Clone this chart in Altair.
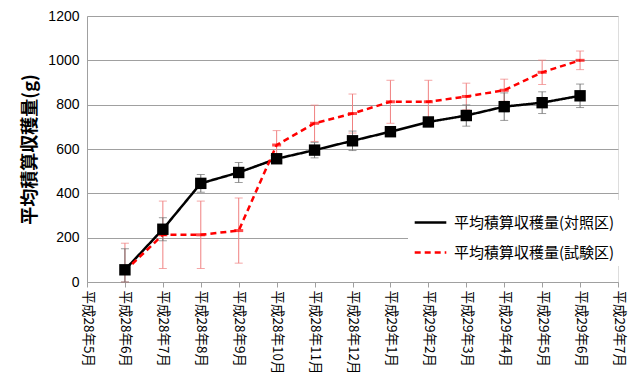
import altair as alt
import pandas as pd

months = ["平成28年5月", "平成28年6月", "平成28年7月", "平成28年8月", "平成28年9月",
          "平成28年10月", "平成28年11月", "平成28年12月", "平成29年1月", "平成29年2月",
          "平成29年3月", "平成29年4月", "平成29年5月", "平成29年6月", "平成29年7月"]
data_months = months[1:14]

s_ctrl = "平均積算収穫量(対照区)"
s_test = "平均積算収穫量(試験区)"

ctrl_vals = [55, 238, 445, 494, 556, 595, 637, 678, 722, 751, 791, 809, 840]
ctrl_err = [95, 52, 40, 45, 20, 35, 44, 15, 18, 48, 62, 49, 53]
test_vals = [50, 213, 213, 232, 618, 716, 760, 813, 813, 837, 865, 946, 1000]
test_err = [125, 152, 152, 147, 65, 82, 88, 97, 97, 60, 50, 55, 42]

rows = []
for m, v, e in zip(data_months, ctrl_vals, ctrl_err):
    rows.append({"month": m, "series": s_ctrl, "value": v, "lo": max(v - e, 0), "hi": v + e})
for m, v, e in zip(data_months, test_vals, test_err):
    rows.append({"month": m, "series": s_test, "value": v, "lo": max(v - e, 0), "hi": v + e})
df = pd.DataFrame(rows)
ctrl = df[df.series == s_ctrl]
test = df[df.series == s_test]

FONT = "Noto Sans CJK JP"

x = alt.X("month:N", sort=months, scale=alt.Scale(domain=months, type="point", padding=0),
          axis=alt.Axis(title=None, labelAngle=90, labelAlign="left", labelBaseline="middle",
                        labelFontSize=13.5, labelColor="#000",
                        labelFont=FONT, domainColor="#a0a0a0", tickColor="#a0a0a0",
                        tickSize=5, labelPadding=3, grid=False, labelOverlap=False))
y = alt.Y("value:Q", scale=alt.Scale(domain=[0, 1200], nice=False),
          axis=alt.Axis(title="平均積算収穫量(g)", values=[0, 200, 400, 600, 800, 1000, 1200],
                        format="d",
                        titleFontSize=18, titleFont=FONT, titleFontWeight="bold",
                        titleColor="#000", titlePadding=8, labelFontSize=14,
                        labelColor="#000", labelFont="Arial", ticks=False, labelPadding=8,
                        domainColor="#a0a0a0", gridColor="#a0a0a0", gridWidth=1))

color = alt.Color("series:N", scale=alt.Scale(domain=[s_ctrl, s_test], range=["#000000", "#ff0000"]),
                  legend=alt.Legend(title=None, orient="none", legendX=321, legendY=184,
                                    fillColor="#ffffff", padding=5, labelFontSize=15,
                                    labelFont=FONT, labelColor="#000", symbolType="stroke",
                                    symbolStrokeWidth=2.5, symbolSize=1000, rowPadding=4,
                                    labelOffset=6, labelLimit=300))
dash = alt.StrokeDash("series:N", scale=alt.Scale(domain=[s_ctrl, s_test], range=[[1, 0], [6, 4]]),
                      legend=None)

base = alt.Chart(df).encode(x=x)

err_test = alt.Chart(test).mark_rule(color="#f08080", strokeWidth=1).encode(
    x=alt.X("month:N", sort=months), y="lo:Q", y2="hi:Q")
cap_test_hi = alt.Chart(test).mark_tick(color="#f08080", size=8, thickness=1).encode(
    x=alt.X("month:N", sort=months), y="hi:Q")
cap_test_lo = alt.Chart(test).mark_tick(color="#f08080", size=8, thickness=1).encode(
    x=alt.X("month:N", sort=months), y="lo:Q")
err_ctrl = alt.Chart(ctrl).mark_rule(color="#707070", strokeWidth=1).encode(
    x=alt.X("month:N", sort=months), y="lo:Q", y2="hi:Q")
cap_ctrl_hi = alt.Chart(ctrl).mark_tick(color="#707070", size=8, thickness=1).encode(
    x=alt.X("month:N", sort=months), y="hi:Q")
cap_ctrl_lo = alt.Chart(ctrl).mark_tick(color="#707070", size=8, thickness=1).encode(
    x=alt.X("month:N", sort=months), y="lo:Q")

lines = base.mark_line(strokeWidth=2.5).encode(y=y, color=color, strokeDash=dash)

test_pts = alt.Chart(test).mark_tick(color="#ff0000", size=9, thickness=3).encode(
    x=alt.X("month:N", sort=months), y="value:Q")
ctrl_pts = alt.Chart(ctrl).mark_square(color="#000000", size=130, opacity=1, filled=True).encode(
    x=alt.X("month:N", sort=months), y="value:Q")

chart = alt.layer(err_test, cap_test_hi, cap_test_lo, err_ctrl, cap_ctrl_hi, cap_ctrl_lo,
                  lines, test_pts, ctrl_pts).properties(
    width=531, height=266, autosize="none",
    padding={"left": 79, "top": 8, "right": 14, "bottom": 99},
).configure_view(stroke=None).configure(background="#ffffff")

chart.save("out.html", embed_options={"renderer": "svg", "actions": False})
